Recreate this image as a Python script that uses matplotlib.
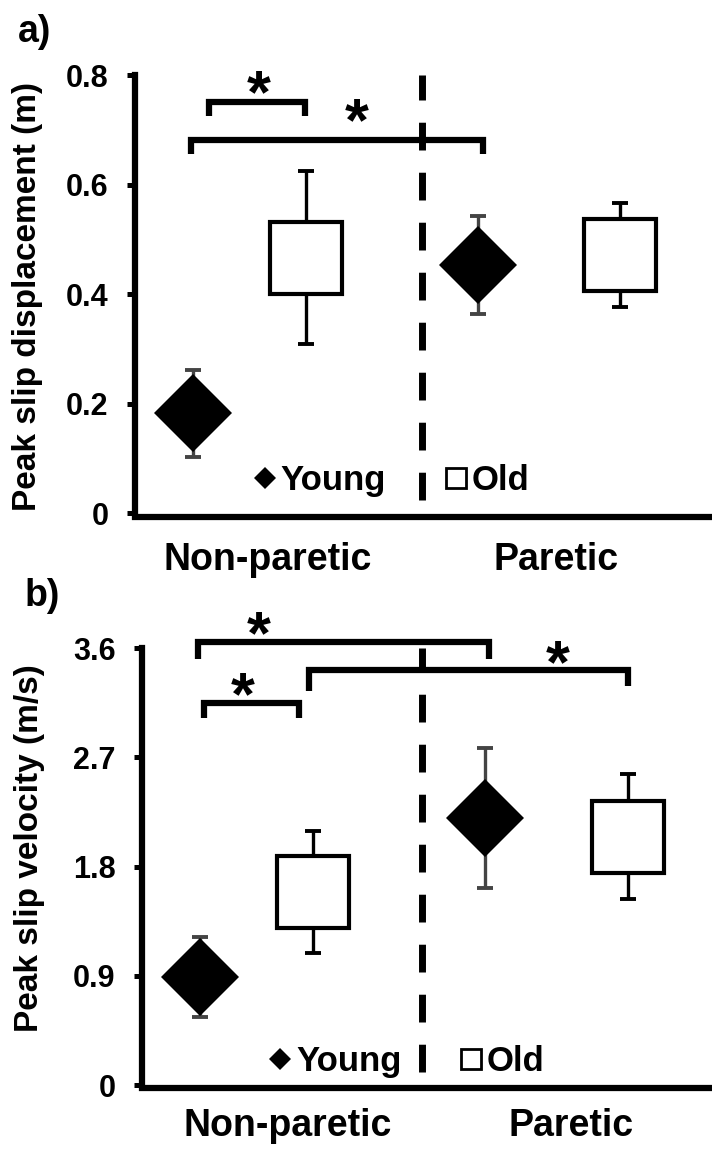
import matplotlib
matplotlib.use("Agg")
import matplotlib.pyplot as plt
from matplotlib.lines import Line2D

plt.rcParams["font.family"] = ["Liberation Sans", "DejaVu Sans"]
plt.rcParams["font.weight"] = "bold"
plt.rcParams["axes.labelweight"] = "bold"

SIDES = ["Non-paretic", "Paretic"]
GROUPS = ["Young", "Old"]

# a) peak slip displacement (m), mean and SD per side
disp_young = [0.182, 0.453]
disp_young_sd = [0.080, 0.090]
disp_old = [0.466, 0.472]
disp_old_sd = [0.158, 0.095]
disp_ticks = [0, 0.2, 0.4, 0.6, 0.8]

# b) peak slip velocity (m/s)
vel_young = [0.89, 2.20]
vel_young_sd = [0.33, 0.575]
vel_old = [1.59, 2.045]
vel_old_sd = [0.50, 0.515]
vel_ticks = [0, 0.9, 1.8, 2.7, 3.6]


def star(ax, x, y):
    ax.annotate("*", (x, y), xytext=(0, -10), textcoords="offset points",
                ha="center", va="center", fontsize=44, annotation_clip=False)


def bracket(ax, x1, x2, y, leg1, leg2, sx, sy):
    ax.plot([x1, x1, x2, x2], [leg1, y, y, leg2], color="black", lw=4.5,
            solid_joinstyle="miter", solid_capstyle="butt", clip_on=False, zorder=4)
    star(ax, sx, sy)


def panel(ax, young, ysd, old, osd, ticks, xy, xo, div, label, legend_xy, label_y, xpad):
    ymax = ticks[-1]
    ax.errorbar(xy, young, yerr=ysd, fmt="none", ecolor="#444444", elinewidth=2.4,
                capsize=5.5, capthick=2.8, zorder=2)
    ax.errorbar(xo, old, yerr=osd, fmt="none", ecolor="black", elinewidth=2.4,
                capsize=5.5, capthick=2.8, zorder=2)
    ax.plot(xy, young, ls="none", marker="D", ms=40, mfc="black", mec="black", mew=0, zorder=3)
    ax.plot(xo, old, ls="none", marker="s", ms=52, mfc="white", mec="black", mew=3, zorder=3)
    ax.axvline(div, ymin=0.03, ymax=1.0, color="black", lw=5, ls=(0, (4, 3.2)), zorder=1)

    ax.set_xlim(0, 10)
    ax.set_ylim(0, ymax)
    ax.set_yticks(ticks)
    ax.set_yticklabels([f"{t:g}" for t in ticks])
    ax.tick_params(axis="y", length=6, width=3.6, pad=13, labelsize=22)
    ax.tick_params(axis="x", length=0, pad=xpad, labelsize=27)
    for s in ["top", "right"]:
        ax.spines[s].set_visible(False)
    for s in ["left", "bottom"]:
        ax.spines[s].set_linewidth(4.5)
    ax.spines["bottom"].set_position(("outward", 2.5))
    ax.set_ylabel(label, fontsize=24, fontweight="bold")
    ax.yaxis.set_label_coords(label_y[0], label_y[1])

    handles = [Line2D([], [], ls="none", marker="D", ms=11.5, mfc="black", mec="black", mew=0),
               Line2D([], [], ls="none", marker="s", ms=15, mfc="white", mec="black", mew=2)]
    ax.legend(handles, GROUPS, loc="center", bbox_to_anchor=legend_xy, ncol=2, frameon=False,
              fontsize=25, handlelength=0.6, handletextpad=0.15, columnspacing=1.7,
              borderaxespad=0, borderpad=0)


fig = plt.figure(figsize=(7.12, 11.49), dpi=100)
ax1 = fig.add_axes([0.1896, 0.5535, 0.8104, 0.3812])
ax2 = fig.add_axes([0.1994, 0.0557, 0.8006, 0.3803])

panel(ax1, disp_young, disp_young_sd, disp_old, disp_old_sd, disp_ticks,
      [1.0, 5.94], [2.96, 8.41], 4.97, "Peak slip displacement (m)", (0.445, 0.075),
      (-0.16, 0.495), 18)
ax1.set_xticks([2.3, 7.3])
ax1.set_xticklabels(SIDES)
bracket(ax1, 1.28, 2.95, 0.751, 0.725, 0.725, 2.15, 0.785)
bracket(ax1, 0.97, 6.03, 0.682, 0.655, 0.655, 3.85, 0.735)

panel(ax2, vel_young, vel_young_sd, vel_old, vel_old_sd, vel_ticks,
      [1.02, 6.02], [3.0, 8.53], 4.91, "Peak slip velocity (m/s)", (0.465, 0.053),
      (-0.17, 0.543), 14)
ax2.set_xticks([2.56, 7.53])
ax2.set_xticklabels(SIDES)
bracket(ax2, 0.98, 6.09, 3.65, 3.51, 3.51, 2.05, 3.80)
bracket(ax2, 1.09, 2.75, 3.15, 3.02, 3.02, 1.77, 3.30)
bracket(ax2, 2.93, 8.53, 3.42, 3.25, 3.29, 7.30, 3.56)

fig.text(18 / 712, 1 - 14 / 1149, "a)", fontsize=27, ha="left", va="top")
fig.text(25 / 712, 1 - 578 / 1149, "b)", fontsize=27, ha="left", va="top")

fig.savefig("out.png", dpi=100)
